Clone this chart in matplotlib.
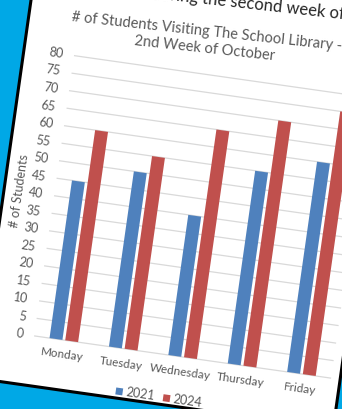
import numpy as np
import matplotlib
matplotlib.use('Agg')
import matplotlib.pyplot as plt
from matplotlib.transforms import Affine2D
from matplotlib.patches import Rectangle

"""Library visits, 2021 vs 2024 - chart pinned at an angle on a blue board"""

days = ['Monday', 'Tuesday', 'Wednesday', 'Thursday', 'Friday']
visits_2021 = [45, 50, 40, 55, 60]
visits_2024 = [60, 55, 65, 70, 75]
years = ['2021', '2024']
ytick_vals = np.arange(0, 85, 5)

blue = '#4F81BD'
red = '#C0504D'
grey_text = '#595959'

plt.rcParams['font.family'] = ['Lato', 'DejaVu Sans']

W, H = 342, 409
tilt = -8.1          # degrees, the page is turned clockwise
pivot = (56, 70)     # display px, foot of the first bar

fig = plt.figure(figsize=(W / 100, H / 100), dpi=100)
fig.patch.set_facecolor('#00A8E6')

rot = Affine2D().rotate_deg_around(pivot[0], pivot[1], tilt)
# page frame: pixels measured from the pivot before the tilt
page = Affine2D().translate(*pivot) + rot

# plot area laid out flat, then everything drawn in it gets tilted
ax = fig.add_axes([(pivot[0] - 22.1) / W, pivot[1] / H, 300 / W, 283.1 / H])
ax.axis('off')
tilted = ax.transData + rot

# white chart sheet with black outline
sheet = Rectangle((-72.5, -50), 359.5, 480, transform=page,
                  facecolor='white', edgecolor='black', lw=2.2, zorder=-5)
fig.add_artist(sheet)

grid = ax.hlines(ytick_vals, -0.5, 4.5, color='#D9D9D9', lw=0.9, zorder=1)
grid.set_transform(tilted)
grid.set_clip_on(False)

x = np.arange(len(days))
w = 0.217
for off, vals, col in [(-0.132, visits_2021, blue), (0.132, visits_2024, red)]:
    bars = ax.bar(x + off, vals, w, color=col, zorder=3)
    for b in bars:
        b.set_transform(tilted)
        b.set_clip_on(False)

ax.set_xlim(-0.5, 4.5)
ax.set_ylim(0, 80)

# y tick labels
left_of_axis = ax.transData + Affine2D().translate(-11, 0) + rot
for v in ytick_vals:
    ax.text(-0.5, v, str(v), transform=left_of_axis, ha='right', va='center',
            rotation=tilt, rotation_mode='anchor', fontsize=9,
            color=grey_text, clip_on=False)

# category labels
below_axis = ax.transData + Affine2D().translate(0, -15) + rot
for i, d in enumerate(days):
    ax.text(i, 0, d, transform=below_axis, ha='center', va='center',
            rotation=tilt, rotation_mode='anchor', fontsize=8.5,
            color=grey_text, clip_on=False)

fig.text(-57.5, 141, '# of Students', transform=page, ha='center', va='center',
         rotation=90 + tilt, rotation_mode='anchor', fontsize=9, color=grey_text)

fig.text(106.2, 317, '# of Students Visiting The School Library -\n2nd Week of October',
         transform=page, ha='center', va='center', multialignment='center',
         rotation=-6.2, rotation_mode='anchor', fontsize=10.5, color=grey_text,
         linespacing=1.25)

# sheet heading, runs off the top right
fig.text(46, 351, 'during the second week of October', transform=page,
         ha='left', va='baseline', rotation=-6.3, rotation_mode='anchor',
         fontsize=12, color='#262626')

# legend
for u0, yr, col in zip([66.5, 114.3], years, [blue, red]):
    fig.add_artist(Rectangle((u0, -46.5), 7, 7, transform=page,
                             facecolor=col, edgecolor='none'))
    fig.text(u0 + 10, -43, yr, transform=page, ha='left', va='center',
             rotation=tilt, rotation_mode='anchor', fontsize=9, color=grey_text)

fig.savefig('out.png', dpi=100, facecolor=fig.get_facecolor())
